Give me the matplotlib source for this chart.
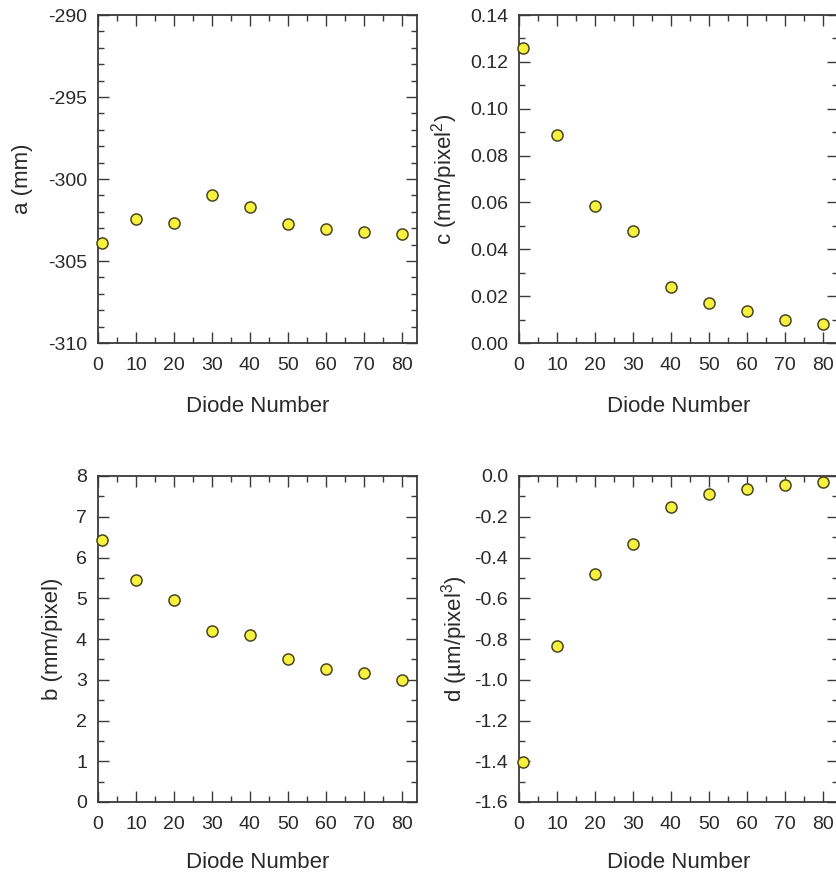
import matplotlib
matplotlib.use("Agg")
import matplotlib.pyplot as plt
from matplotlib.ticker import MultipleLocator, FormatStrFormatter

plt.rcParams['font.family'] = ['Liberation Sans', 'DejaVu Sans']
plt.rcParams['mathtext.fontset'] = 'custom'
plt.rcParams['mathtext.rm'] = 'Liberation Sans'
plt.rcParams['mathtext.it'] = 'Liberation Sans'
plt.rcParams['mathtext.default'] = 'regular'

diode = [1, 10, 20, 30, 40, 50, 60, 70, 80]
a_vals = [-303.93, -302.45, -302.71, -301.0, -301.71, -302.75, -303.06, -303.22, -303.38]
b_vals = [6.44, 5.45, 4.96, 4.19, 4.10, 3.52, 3.27, 3.16, 3.00]
c_vals = [0.1261, 0.0887, 0.0583, 0.0479, 0.0239, 0.0169, 0.0136, 0.0100, 0.0080]
d_vals = [-1.405, -0.835, -0.481, -0.336, -0.151, -0.087, -0.062, -0.043, -0.031]

W, H = 837, 877
fig = plt.figure(figsize=(W / 100, H / 100), dpi=100)
fig.patch.set_facecolor('white')

TXT = '#2a2a2a'
SP = '#3a3a3a'

def px_axes(l, t, r, b):
    return fig.add_axes([l / W, 1 - b / H, (r - l) / W, (b - t) / H])

panels = [
    ((98, 15, 417, 343), a_vals, (-310, -290), 5, 1, '%d', 'a (mm)', 23, 407),
    ((519, 15, 838, 343), c_vals, (0.0, 0.14), 0.02, 0.01, '%.2f', 'c (mm/pixel$^{2}$)', 445, 407),
    ((98, 476, 417, 802), b_vals, (0, 8), 1, 0.5, '%d', 'b (mm/pixel)', 53, 863),
    ((519, 476, 838, 802), d_vals, (-1.6, 0.0), 0.2, 0.1, '%.1f', 'd (µm/pixel$^{3}$)', 455, 863),
]

for (l, t, r, b), vals, ylim, maj, mnr, fmt, ylab, ylx, xly in panels:
    ax = px_axes(l, t, r, b)
    ax.scatter(diode, vals, s=64, facecolor='#f6f23e', edgecolor='#4a4520',
               linewidth=1.1, zorder=3, clip_on=False)
    ax.set_xlim(0, 84)
    ax.set_ylim(*ylim)
    ax.xaxis.set_major_locator(MultipleLocator(10))
    ax.xaxis.set_minor_locator(MultipleLocator(5))
    ax.yaxis.set_major_locator(MultipleLocator(maj))
    ax.yaxis.set_minor_locator(MultipleLocator(mnr))
    ax.yaxis.set_major_formatter(FormatStrFormatter(fmt))
    ax.tick_params(which='both', direction='in', top=True, right=True,
                   colors=SP, labelcolor=TXT)
    ax.tick_params(which='major', length=8, width=1.0, labelsize=14)
    ax.tick_params(axis='x', which='major', pad=10)
    ax.tick_params(axis='y', which='major', pad=8)
    ax.tick_params(which='minor', length=4, width=1.0)
    for s in ax.spines.values():
        s.set_color(SP)
        s.set_linewidth(1.3)
    ax.set_xlabel('Diode Number', fontsize=16, color=TXT)
    ax.set_ylabel(ylab, fontsize=16, color=TXT)
    h = b - t
    w = r - l
    ax.xaxis.set_label_coords(0.5, (b - xly) / h)
    ax.xaxis.label.set_va('center')
    ax.yaxis.set_label_coords((ylx - l) / w, 0.5)
    ax.yaxis.label.set_va('center')

fig.savefig('out.png', dpi=100, facecolor='white')
